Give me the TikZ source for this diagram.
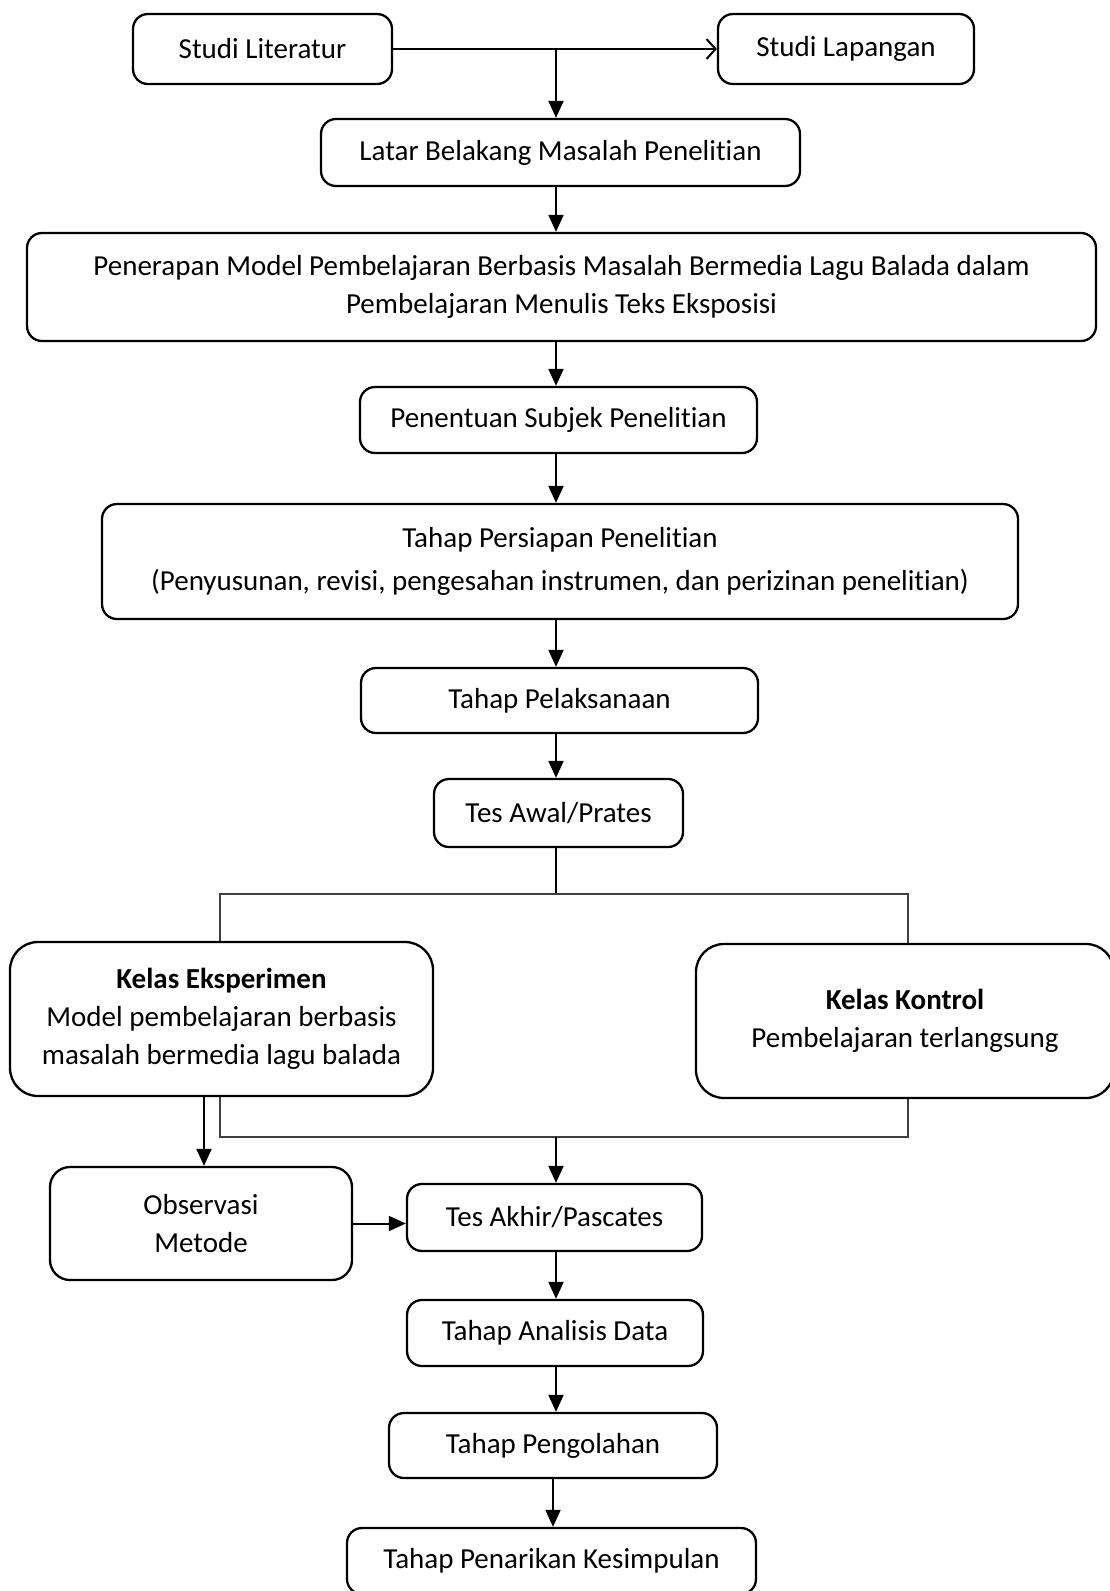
\documentclass[tikz,border=0pt]{standalone}
\usepackage{fontspec}
\setmainfont{Carlito}[Ligatures={NoCommon,NoRare}]
\usetikzlibrary{arrows.meta}
\begin{document}
\begin{tikzpicture}[x=1pt,y=-1pt,
  box/.style={draw=black, line width=2.3pt, rounded corners=15pt, align=center, inner sep=0pt,
    font=\fontsize{29pt}{38pt}\selectfont},
  bigbox/.style={box, rounded corners=28pt},
  arr/.style={line width=2pt, -{Triangle[length=17pt,width=15pt]}},
  openarr/.style={line width=2pt, -{Straight Barb[length=9pt,width=20pt,line width=2pt]}},
  split/.style={line width=1.4pt, draw=black!75},
  plain/.style={line width=2pt}]
\useasboundingbox (0,0) rectangle (1109,1591);
\fill[white] (0,0) rectangle (1109,1591);

\node[box, minimum width=259pt, minimum height=70pt] (lit) at (262.5,49) {Studi Literatur};
\node[box, minimum width=256pt, minimum height=70pt] (lap) at (846,49) {Studi Lapangan};
\node[box, minimum width=479pt, minimum height=67pt] (latar) at (560.5,152.5) {Latar Belakang Masalah Penelitian};
\node[box, minimum width=1069pt, minimum height=108pt] (pen) at (561.5,287) {Penerapan Model Pembelajaran Berbasis Masalah Bermedia Lagu Balada dalam\\Pembelajaran Menulis Teks Eksposisi};
\node[box, minimum width=397pt, minimum height=66pt] (subj) at (558.5,420) {Penentuan Subjek Penelitian};
\node[box, minimum width=916pt, minimum height=115pt, font=\fontsize{29pt}{43pt}\selectfont] (pers) at (560,561.5) {Tahap Persiapan Penelitian\\(Penyusunan, revisi, pengesahan instrumen, dan perizinan penelitian)};
\node[box, minimum width=397pt, minimum height=65pt] (pel) at (559.5,700.5) {Tahap Pelaksanaan};
\node[box, minimum width=249pt, minimum height=68pt] (awal) at (558.5,813) {Tes Awal/Prates};
\node[bigbox, minimum width=423pt, minimum height=154pt] (eks) at (221.5,1019) {\textbf{Kelas Eksperimen}\\Model pembelajaran berbasis\\masalah bermedia lagu balada};
\node[bigbox, minimum width=418pt, minimum height=154pt] (kon) at (905,1021) {\textbf{Kelas Kontrol}\\Pembelajaran terlangsung};
\node[box, rounded corners=20pt, minimum width=302pt, minimum height=113pt] (obs) at (201,1223.5) {Observasi\\Metode};
\node[box, minimum width=295pt, minimum height=67pt] (akhir) at (554.5,1217.5) {Tes Akhir/Pascates};
\node[box, minimum width=296pt, minimum height=66pt] (anal) at (555,1333) {Tahap Analisis Data};
\node[box, minimum width=328pt, minimum height=65pt] (olah) at (553,1445.5) {Tahap Pengolahan};
\node[box, minimum width=409pt, minimum height=66pt] (simp) at (551.5,1561) {Tahap Penarikan Kesimpulan};

\coordinate (ax) at (556,0);
\coordinate (j1) at (556,49);
\coordinate (s1) at (556,894);
\coordinate (sl) at (220,894);
\coordinate (sr) at (908,894);
\coordinate (m1) at (556,1137);
\coordinate (ml) at (220,1137);
\coordinate (mr) at (908,1137);
\coordinate (ox) at (204,0);

\draw[openarr] (lit.east) -- (lap.west);
\draw[arr] (j1) -- (latar.north -| j1);
\draw[arr] (latar.south -| ax) -- (pen.north -| ax);
\draw[arr] (pen.south -| ax) -- (subj.north -| ax);
\draw[arr] (subj.south -| ax) -- (pers.north -| ax);
\draw[arr] (pers.south -| ax) -- (pel.north -| ax);
\draw[arr] (pel.south -| ax) -- (awal.north -| ax);

\draw[plain] (awal.south -| ax) -- (s1);
\draw[split] (eks.north -| sl) -- (sl) -- (sr) -- (kon.north -| sr);

\draw[split] (eks.south -| ml) -- (ml) -- (mr) -- (kon.south -| mr);
\draw[arr] (eks.south -| ox) -- (obs.north -| ox);
\draw[arr] (m1) -- (akhir.north -| m1);
\draw[arr] (obs.east) -- (akhir.west |- obs.east);
\draw[arr] (akhir.south -| ax) -- (anal.north -| ax);
\draw[arr] (anal.south -| ax) -- (olah.north -| ax);
\draw[arr] (olah.south -| 553,0) -- (simp.north -| 553,0);
\end{tikzpicture}
\end{document}
